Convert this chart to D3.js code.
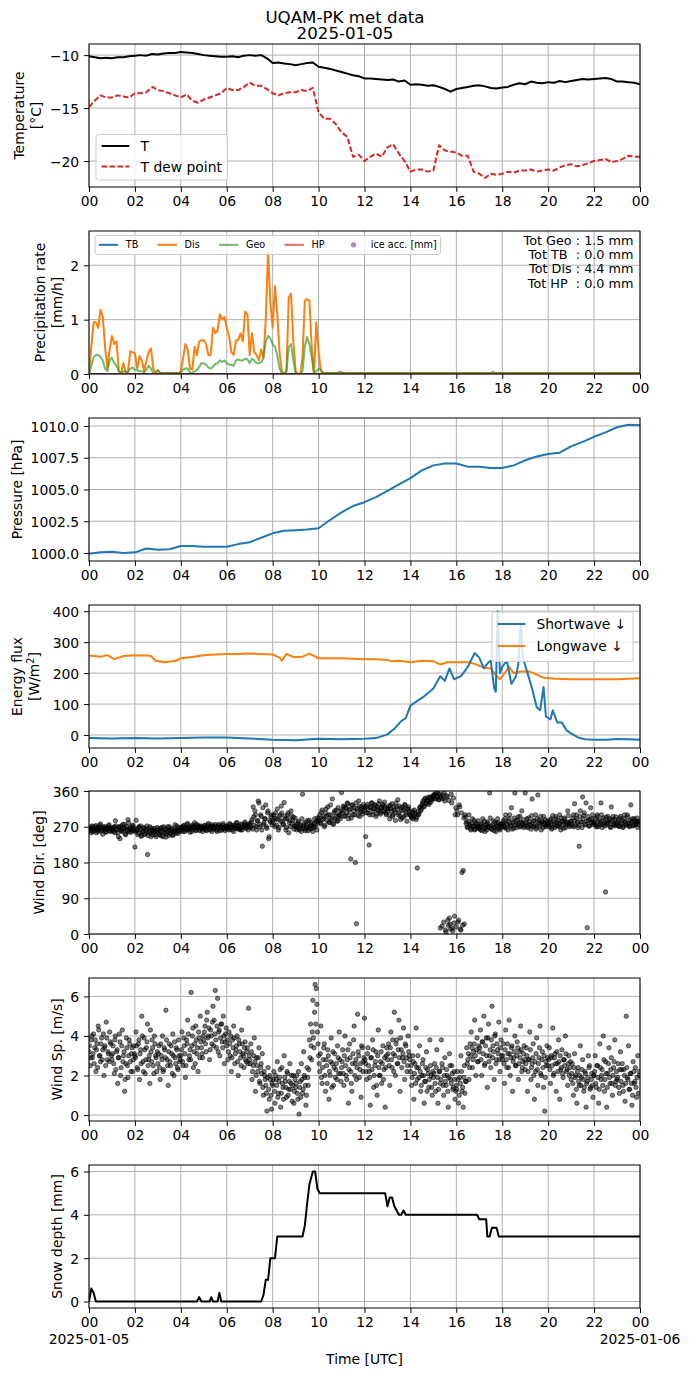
<!DOCTYPE html>
<html><head><meta charset="utf-8">
<script src="https://cdn.jsdelivr.net/npm/d3@7"></script>
<style>body{margin:0;background:#fff} svg text{font-family:"DejaVu Sans",sans-serif}</style>
</head><body><svg id="c" width="690" height="1377"></svg>
<script>
// ---------------- DATA ----------------
const xTickHours = [0,2,4,6,8,10,12,14,16,18,20,22,24];
const dateLabels = ["2025-01-05","2025-01-06"];

// Temperature, 0.25 h steps (rows = hours)
const tempT = [
 [-10.1,-10.2,-10.3,-10.25],[-10.3,-10.2,-10.2,-10.1],[-10.05,-10.0,-10.05,-9.9],[-9.95,-9.85,-9.8,-9.8],
 [-9.7,-9.75,-9.8,-9.9],[-10.0,-10.05,-10.1,-10.15],[-10.15,-10.1,-10.2,-10.05],[-10.0,-10.05,-10.0,-10.3],
 [-10.75,-10.7,-10.8,-10.85],[-10.95,-10.85,-10.75,-10.7],[-11.1,-11.2,-11.3,-11.45],[-11.6,-11.75,-11.9,-12.0],
 [-12.2,-12.2,-12.25,-12.3],[-12.35,-12.3,-12.5,-12.4],[-12.8,-12.75,-12.8,-12.9],[-12.85,-13.0,-13.2,-13.45],
 [-13.2,-13.1,-13.0,-12.9],[-12.85,-12.95,-13.1,-13.15],[-13.05,-13.0,-12.8,-12.65],[-12.75,-12.5,-12.6,-12.65],
 [-12.55,-12.6,-12.45,-12.55],[-12.45,-12.35,-12.25,-12.3],[-12.25,-12.2,-12.15,-12.25],[-12.5,-12.5,-12.55,-12.6],
 [-12.75]];
const tempTd = [
 [-14.9,-14.3,-13.8,-14.0],[-14.0,-13.8,-13.9,-14.0],[-13.6,-13.6,-13.5,-13.0],[-13.3,-13.4,-13.6,-13.8],
 [-14.0,-13.7,-14.3,-14.5],[-14.2,-14.0,-13.8,-13.6],[-13.1,-13.3,-13.3,-13.0],[-12.6,-12.9,-12.9,-13.2],
 [-13.6,-13.8,-13.6,-13.5],[-13.5,-13.3,-13.4,-13.1],[-15.4,-16.0,-16.0,-16.5],[-17.3,-17.7,-19.6,-19.4],
 [-20.0,-19.6,-19.3,-19.6],[-18.7,-18.4,-19.3,-20.0],[-21.0,-20.8,-20.8,-21.0],[-20.9,-18.5,-19.0,-19.1],
 [-19.2,-19.5,-19.5,-21.0],[-21.2,-21.6,-21.2,-21.3],[-21.2,-21.0,-21.1,-20.9],[-20.9,-20.8,-21.0,-20.9],
 [-20.8,-20.9,-20.6,-20.4],[-20.3,-20.5,-20.4,-20.2],[-20.0,-19.9,-19.8,-20.1],[-20.0,-19.8,-19.5,-19.6],
 [-19.6]];

// Precipitation rate, 0.1 h steps from 00 to 10.5 h, then tails
const disRate = [0,0.5,0.95,0.95,0.85,1.18,1.05,0.5,0.1,0.45,
 0.7,0.55,0.6,0.05,0.02,0.2,0.02,0.05,0.42,0.4,
 0.38,0.1,0.33,0.25,0.05,0.25,0.4,0.47,0.1,0.02,
 0.07,0.02,0.02,0.02,0.02,0.02,0.02,0.02,0.02,0.02,
 0.05,0.3,0.55,0.45,0.1,0.08,0.5,0.35,0.6,0.62,
 0.62,0.55,0.35,0.35,0.85,0.75,0.8,1.1,1.0,1.05,
 0.85,0.7,0.4,0.35,0.62,0.62,0.75,0.6,1.15,1.1,
 0.35,0.75,0.4,0.35,0.25,0.45,0.3,1.0,2.25,1.3,
 0.85,1.62,1.1,0.4,0.05,0,0.05,1.4,1.48,0.6,
 0.05,0,0,0.3,1.35,1.38,1.35,0.5,0,0.95,
 0.4,0.05,0.02,0.02,0.02,0.02];
const geoRate = [0,0.15,0.3,0.35,0.35,0.32,0.25,0.1,0.05,0.25,
 0.3,0.2,0.15,0.05,0.02,0.05,0.05,0.03,0.1,0.12,
 0.08,0.07,0.05,0.05,0.03,0.08,0.15,0.1,0.02,0.02,
 0.07,0.02,0.02,0.02,0.02,0.02,0.02,0.02,0.02,0.02,
 0.03,0.08,0.1,0.1,0.03,0.02,0.05,0.07,0.13,0.2,
 0.2,0.17,0.12,0.1,0.13,0.18,0.2,0.25,0.22,0.25,
 0.2,0.17,0.17,0.15,0.25,0.27,0.25,0.25,0.28,0.27,
 0.2,0.28,0.25,0.2,0.2,0.22,0.3,0.6,0.7,0.65,
 0.55,0.5,0.35,0.1,0.02,0,0.05,0.5,0.55,0.25,
 0.02,0,0,0.05,0.5,0.68,0.55,0.3,0.02,0.05,
 0.1,0.08,0.02,0.02,0.02,0.02];
const disTailTime = [11,24], disTail = [0.02,0.02];
const geoTailTime = [10.8,10.95,11.1,17.5,17.6,17.7,24], geoTail = [0.02,0.04,0.02,0.02,0.04,0.02,0.02];
const tbTime = [0,24], tbRate = [0,0];
const hpTime = [0,24], hpRate = [0,0];
const totals = ["Tot Geo : 1.5 mm","Tot TB  : 0.0 mm","Tot Dis : 4.4 mm","Tot HP  : 0.0 mm"];

// Pressure, 0.5 h steps
const pressure = [[999.95,1000.05],[1000.1,1000.0],[1000.05,1000.35],[1000.25,1000.3],[1000.55,1000.55],
 [1000.5,1000.5],[1000.5,1000.7],[1000.85,1001.2],[1001.55,1001.75],[1001.8,1001.85],[1001.95,1002.6],
 [1003.2,1003.7],[1004.0,1004.4],[1004.9,1005.4],[1005.9,1006.5],[1006.9,1007.05],[1007.05,1006.8],
 [1006.8,1006.7],[1006.7,1006.9],[1007.3,1007.6],[1007.8,1007.9],[1008.4,1008.75],[1009.15,1009.5],
 [1009.9,1010.1],[1010.05]];

// Energy flux
const swTime = [0,1,2,3,4,5,6,7,8,9,10,11,12,12.5,13,13.3,13.6,13.8,14,14.3,14.6,15,15.3,15.5,15.7,15.9,16.2,16.5,16.8,17.0,17.2,17.4,17.5,17.65,17.72,17.8,17.9,18.0,18.2,18.4,18.6,18.7,18.8,18.9,19.1,19.3,19.5,19.65,19.8,19.9,20.1,20.2,20.4,20.6,20.8,21,21.3,21.6,22,22.5,23,23.5,24];
const swFlux = [-10,-11,-10,-11,-10,-8,-8,-11,-15,-17,-12,-14,-12,-10,2,20,45,55,95,110,125,150,190,175,215,180,190,220,265,250,215,235,240,150,140,400,200,220,240,165,190,230,360,250,200,150,90,80,155,60,50,80,40,40,15,5,-8,-14,-15,-15,-13,-14,-15];
const lwTime = [0,0.5,0.8,1.1,1.5,2,2.5,2.7,2.9,3.3,3.8,4,4.5,5,5.5,6,6.5,7,7.5,8,8.3,8.4,8.6,8.9,9.3,9.6,10,10.5,11,12,12.5,13,13.2,13.5,14,14.5,15,15.3,15.6,16,16.5,16.8,17.2,17.5,17.7,17.9,18.2,18.3,18.5,18.8,19.2,19.5,19.8,20.3,21,22,23,24];
const lwFlux = [257,253,258,245,255,258,257,255,240,235,240,248,252,258,260,262,262,263,262,260,250,240,262,252,253,263,248,248,248,245,245,242,238,240,235,240,238,228,235,235,235,230,218,215,195,180,210,220,200,205,205,195,185,182,180,180,180,183];

// Wind direction (deg), 3-min samples at :00,:03,... one row per hour
const windDir = [
 [262,268,255,270,266,259,273,264,258,269,277,262,251,265,270,258,266,272,260,268],
 [264,258,270,285,262,255,268,240,272,260,266,276,250,263,288,257,269,262,274,259],
 [219,286,262,254,268,272,248,258,266,251,262,200,257,270,245,262,256,266,250,262],
 [258,252,266,247,261,270,255,244,262,258,270,252,263,248,260,275,254,262,268,258],
 [265,270,258,274,268,262,278,266,256,272,264,270,280,260,268,274,263,270,266,258],
 [268,274,262,270,278,264,270,258,272,266,276,262,269,273,260,270,266,278,264,270],
 [266,272,262,276,268,270,258,274,266,280,264,270,262,276,268,272,282,266,274,270],
 [278,268,288,320,274,300,262,284,330,270,296,221,276,290,325,266,310,245,282,300],
 [286,300,270,290,315,262,296,284,305,276,331,290,268,300,255,286,310,278,294,272],
 [270,262,280,266,275,258,352,272,264,282,268,260,286,274,266,258,278,270,284,292],
 [285,300,278,312,290,270,305,296,320,282,300,288,340,276,310,296,285,318,300,290],
 [356,305,320,298,316,330,290,312,189,325,300,318,180,26,310,335,296,320,308,326],
 [312,245,322,305,224,318,330,300,315,325,296,320,310,335,302,318,326,308,320,300],
 [310,322,290,316,328,300,312,286,320,338,305,296,318,292,312,326,300,284,315,308],
 [300,292,310,296,304,288,166,300,318,310,325,335,320,342,330,338,326,345,332,340],
 [345,352,340,348,355,338,15,342,350,30,335,5,345,22,40,12,330,8,28,300],
 [18,300,35,320,10,155,160,25,295,282,270,300,276,265,290,272,262,280,268,285],
 [270,262,278,290,266,258,275,282,268,355,272,264,285,260,270,278,290,266,262,276],
 [276,285,268,300,278,262,290,272,318,280,266,355,286,274,295,270,282,310,276,268],
 [355,280,270,292,276,264,340,284,272,300,268,350,286,278,262,282,296,274,270,285],
 [276,270,286,264,298,278,268,290,280,272,300,262,284,276,292,268,282,310,274,278],
 [284,272,300,328,276,290,268,221,310,282,345,298,276,330,16,286,272,318,290,280],
 [278,290,270,300,284,275,330,268,292,280,106,276,296,284,270,320,288,276,272,295],
 [274,286,270,296,280,268,290,282,274,300,278,270,325,284,272,290,276,282,268,284]];
// Wind direction (deg), samples at :01.5,:04.5,... one row per hour
const windDirB = [
 [266,260,272,258,264,270,255,268,262,274,259,266,270,261,256,268,264,275,258,265],
 [260,268,255,272,264,245,270,262,258,276,266,252,270,260,280,264,256,268,272,262],
 [258,265,250,270,262,246,256,268,252,264,272,248,260,255,266,250,262,258,245,268],
 [262,250,258,268,245,256,264,252,270,248,260,255,266,250,262,258,272,253,260,264],
 [268,262,272,258,266,276,262,270,265,258,274,268,262,276,266,270,260,272,268,264],
 [272,266,260,274,268,262,276,270,264,268,272,258,266,276,270,262,274,268,260,272],
 [270,264,278,268,262,274,270,266,280,268,272,264,276,262,270,278,268,274,262,276],
 [272,282,264,295,310,270,286,335,276,300,262,318,280,290,270,305,240,286,296,275],
 [280,292,305,274,288,268,300,322,284,276,296,262,290,305,280,270,298,286,264,292],
 [276,268,284,262,272,290,266,278,260,274,286,270,264,280,272,268,290,276,262,282],
 [292,280,306,288,296,274,315,286,300,280,325,292,278,305,290,312,284,300,296,310],
 [310,322,296,318,305,328,300,315,292,324,310,300,330,316,298,322,308,315,302,320],
 [318,305,326,312,300,320,330,308,316,324,302,314,328,306,318,310,322,332,304,315],
 [316,300,324,310,296,320,306,330,314,300,322,288,310,318,296,324,306,314,320,300],
 [296,306,290,312,300,294,308,302,320,314,330,322,340,328,336,344,330,342,338,348],
 [350,342,356,345,338,352,346,20,340,355,10,348,35,336,25,352,15,342,45,318],
 [310,30,325,12,305,22,292,300,278,268,284,272,262,278,270,286,264,276,272,266],
 [266,276,260,272,284,268,262,278,270,292,264,274,268,282,258,272,280,266,276,270],
 [280,270,290,266,276,284,300,272,264,282,292,274,268,286,278,296,270,280,288,272],
 [278,290,268,282,274,298,270,286,276,264,290,280,272,296,284,268,278,288,274,280],
 [280,274,290,268,284,276,296,272,286,278,270,292,282,266,288,276,280,298,270,284],
 [278,292,270,286,300,280,274,296,282,268,290,305,276,284,296,272,288,280,300,276],
 [282,274,296,270,288,280,300,276,286,272,294,282,278,290,268,284,296,276,288,280],
 [280,272,292,276,286,270,300,282,276,294,272,286,280,290,274,284,278,292,282,276]];

// Wind speed (m/s), 3-min samples at :00,:03,... one row per hour
const windSp = [
 [3.2,2.5,3.8,2.9,4.1,3.4,2.2,3.6,4.5,3.0,2.7,3.9,3.3,2.0,3.5,4.7,2.8,3.1,4.2,3.6],
 [2.8,3.5,2.1,4.0,3.2,1.6,2.9,3.7,2.4,4.3,3.0,1.2,2.6,3.4,1.9,3.8,2.7,3.1,2.2,3.5],
 [3.0,4.2,2.4,3.6,1.8,3.3,5.0,2.7,3.9,2.1,3.4,4.6,2.8,1.6,3.2,3.8,2.5,4.0,3.0,2.2],
 [2.6,3.5,1.8,3.0,4.0,2.3,3.3,5.3,2.8,1.5,3.6,2.5,3.1,4.1,2.0,2.9,3.4,2.4,3.8,2.7],
 [3.0,4.2,2.5,3.5,1.9,3.8,4.8,2.8,3.3,6.2,4.0,2.4,3.6,4.5,3.1,2.2,3.9,5.0,3.4,2.9],
 [3.8,4.5,3.2,5.2,4.0,2.8,4.3,3.6,5.5,4.8,6.3,3.4,5.9,4.2,3.0,4.6,3.7,5.0,2.6,4.1],
 [3.5,2.8,4.2,3.0,2.2,3.8,4.5,2.6,3.3,4.0,2.0,3.6,2.9,4.3,3.1,2.4,3.7,2.7,3.4,5.4],
 [2.8,3.6,1.8,2.5,3.9,1.2,2.9,2.2,3.4,1.6,2.6,3.1,1.0,2.0,1.5,0.2,2.4,0.8,1.8,0.3],
 [1.5,2.2,0.6,1.8,2.7,1.1,1.9,0.4,2.4,1.4,3.0,1.7,0.9,2.1,1.3,2.6,1.6,0.7,2.0,1.2],
 [1.4,2.0,0.8,0.05,1.7,2.6,1.1,3.2,1.9,0.5,2.4,1.5,3.8,4.6,2.8,5.8,3.4,6.6,6.4,4.2],
 [3.0,2.2,4.5,1.6,2.8,3.6,1.2,2.5,3.3,0.8,2.0,3.9,2.6,1.5,3.1,2.3,1.8,2.9,4.2,2.1],
 [2.4,3.3,1.5,4.0,2.0,2.8,0.6,3.6,2.2,1.2,3.1,4.5,2.6,1.8,5.1,3.0,2.3,0.9,3.4,2.7],
 [4.9,2.6,1.8,3.4,2.2,0.5,2.9,3.8,1.4,2.5,3.2,1.0,4.3,2.0,2.7,1.6,3.5,2.3,0.4,3.0],
 [2.8,3.6,1.5,4.2,2.4,3.1,5.2,2.0,3.8,2.6,4.8,1.2,3.3,2.9,4.4,1.8,3.5,2.2,4.0,3.0],
 [2.2,1.5,3.0,0.8,2.6,4.4,1.8,2.4,3.5,1.2,2.0,2.8,0.6,1.7,3.2,2.3,1.4,3.8,2.0,1.0],
 [1.9,2.6,1.2,3.3,0.6,2.2,1.6,3.8,2.4,1.0,2.9,1.5,2.0,0.4,3.1,1.8,2.5,1.3,2.2,0.8],
 [1.5,2.2,0.6,1.9,3.0,1.2,0.4,2.5,1.7,3.4,2.8,1.8,3.6,4.2,2.4,3.2,4.8,2.0,3.9,2.7],
 [3.2,4.3,2.0,3.7,5.0,2.6,3.9,1.4,4.6,3.0,2.4,5.5,3.5,1.8,4.1,2.8,3.3,4.7,2.2,3.8],
 [2.8,3.6,1.6,4.3,2.4,3.1,4.8,2.0,3.4,1.2,2.9,4.0,2.5,3.7,1.8,3.2,4.5,2.2,2.7,3.5],
 [2.3,3.4,1.2,2.8,4.2,1.8,2.6,3.6,0.8,2.2,3.9,1.5,2.9,4.5,2.0,3.2,1.4,0.2,2.7,3.5],
 [2.5,3.4,1.6,2.9,4.4,2.1,3.1,1.2,2.6,3.8,0.8,2.3,3.3,1.9,2.8,4.0,2.2,1.5,3.0,2.4],
 [1.8,2.6,1.0,3.1,2.0,0.6,2.4,1.5,3.5,1.9,2.8,1.2,2.2,0.4,1.7,3.0,2.5,1.4,2.1,0.9],
 [2.0,3.0,1.4,2.5,0.6,3.6,1.8,2.3,4.0,1.2,2.7,0.4,2.1,3.4,1.6,2.9,1.0,2.4,3.8,1.7],
 [1.8,2.6,1.1,3.2,2.3,1.5,2.3,0.7,5.0,1.9,3.5,1.3,2.1,0.5,2.7,1.6,2.4,0.9,3.0,2.2]];
// Wind speed (m/s), samples at :01.5,:04.5,... one row per hour
const windSpB = [
 [3.5,2.9,4.0,3.1,2.6,3.8,3.3,2.4,4.3,3.0,3.6,2.8,4.1,3.4,2.5,3.9,3.2,2.7,3.7,3.0],
 [3.1,2.6,3.8,2.3,3.3,2.9,4.1,2.0,3.5,2.7,3.2,1.8,3.9,2.5,3.0,3.6,2.2,3.4,2.8,3.1],
 [2.9,3.5,2.3,3.8,3.1,2.6,4.0,2.2,3.3,2.8,3.7,2.5,3.0,4.3,2.7,3.4,2.1,3.6,2.9,3.2],
 [3.1,2.4,3.6,2.8,2.2,3.4,2.9,3.8,2.5,3.2,2.7,3.5,2.1,3.0,3.7,2.6,3.3,2.3,3.0,2.8],
 [3.3,2.7,3.9,3.1,2.5,3.6,4.1,3.0,2.8,3.5,4.4,3.2,2.6,3.8,3.4,4.2,2.9,3.7,3.1,4.0],
 [4.2,3.6,4.8,3.9,4.4,3.3,4.0,4.7,3.5,4.1,3.8,4.5,3.2,4.3,3.9,4.6,3.4,4.0,3.7,4.4],
 [3.8,3.2,3.6,4.0,2.9,3.4,3.9,3.1,3.5,2.7,3.8,3.2,2.5,3.6,3.0,3.4,2.8,3.2,2.6,3.0],
 [2.6,3.2,2.2,3.0,2.7,2.0,2.5,2.9,1.7,2.4,2.1,1.4,2.2,1.8,1.1,1.9,1.3,2.0,1.0,1.6],
 [1.8,1.2,2.0,1.5,0.9,1.7,2.3,1.1,1.6,0.8,1.9,1.4,2.2,1.0,1.7,1.3,2.0,1.5,0.6,1.8],
 [1.6,1.1,2.2,1.4,0.9,1.8,1.3,2.0,1.5,1.0,1.9,2.3,2.9,3.5,4.2,3.9,5.2,4.6,5.6,3.6],
 [2.6,3.1,1.9,2.4,3.4,2.0,2.8,1.6,3.0,2.2,2.7,1.4,3.2,2.4,1.9,2.6,3.5,2.1,2.8,1.7],
 [2.7,2.1,3.0,2.5,1.8,3.3,2.3,2.9,1.6,2.6,3.8,2.0,2.8,2.4,3.2,1.9,2.6,3.5,2.2,2.9],
 [2.8,2.2,3.1,2.5,1.9,2.9,2.3,3.3,2.0,2.7,1.5,3.0,2.4,2.0,3.2,2.6,1.8,2.9,2.4,3.4],
 [3.1,2.5,3.4,2.8,3.8,2.2,3.0,3.6,2.6,3.3,2.9,3.9,2.4,3.1,2.7,3.6,2.9,2.5,3.2,2.8],
 [2.5,1.9,2.7,2.1,1.6,2.4,3.0,1.9,2.2,1.5,2.6,2.0,1.7,2.4,1.2,2.1,1.8,2.5,1.4,2.2],
 [2.1,1.6,2.4,1.9,1.3,2.2,1.8,2.6,1.5,2.0,1.7,2.3,1.2,1.9,2.5,1.6,2.1,1.4,1.8,1.2],
 [1.3,1.8,1.0,1.6,2.2,1.4,1.9,1.1,1.7,2.6,3.1,2.4,3.0,3.4,2.8,3.6,3.0,3.3,2.7,3.5],
 [3.4,2.8,3.7,3.1,2.5,3.5,3.0,3.9,2.7,3.3,3.8,2.9,3.2,4.0,2.6,3.6,3.1,2.8,3.4,3.0],
 [3.0,2.6,3.3,2.8,3.6,2.4,3.1,2.9,3.5,2.7,3.2,2.5,3.0,3.4,2.6,2.9,3.3,2.4,3.1,2.8],
 [2.6,3.0,2.2,2.8,3.3,2.4,2.9,2.0,2.7,3.1,2.3,2.6,3.4,2.1,2.8,2.4,3.0,1.9,2.5,2.9],
 [2.8,2.3,3.0,2.5,2.0,2.9,2.6,3.2,2.2,2.7,3.0,2.4,2.1,2.8,2.5,3.1,2.3,2.6,2.0,2.7],
 [2.1,1.6,2.4,1.9,1.3,2.2,1.7,2.0,1.5,2.3,1.8,1.4,2.1,1.6,1.9,2.4,1.3,1.8,1.5,2.0],
 [2.2,1.6,2.5,1.9,1.3,2.4,2.0,1.5,2.8,1.8,2.1,1.4,2.6,1.9,2.3,1.6,2.0,2.7,1.5,2.2],
 [1.9,1.4,2.3,1.7,2.6,1.2,2.0,1.6,2.4,1.8,1.3,2.1,1.6,1.0,2.2,1.7,1.4,1.9,1.1,2.0]];

// Snow depth
const snowTime = [0,0.1,0.2,0.3,4.7,4.8,4.9,5.25,5.33,5.4,5.6,5.68,5.76,7.5,7.6,7.7,7.8,7.9,8.1,8.2,9.3,9.4,9.5,9.6,9.75,9.85,9.95,10.05,12.9,13.0,13.1,13.2,13.3,13.5,13.6,13.7,13.8,16.9,17.0,17.3,17.35,17.45,17.55,17.75,17.85,24];
const snowDepth = [0,0.6,0.4,0,0,0.2,0,0,0.2,0,0,0.4,0,0,0.3,1.0,1.0,2.0,2.0,3.0,3.0,3.5,4.5,5.4,6.0,6.0,5.2,5.0,5.0,4.4,4.8,4.8,4.4,4.0,4.0,4.2,4.0,4.0,3.8,3.8,3.0,3.0,3.4,3.4,3.0,3.0];

// ---------------- HELPERS ----------------
const rowsToPts = (rows, step) => { const out=[]; rows.forEach((r,h)=>r.forEach((v,j)=>out.push([h+j*step, v]))); return out; };
const zipPts = (t, v) => t.map((d,i)=>[d, v[i]]);
const hourly = (rows, off) => { const out=[]; rows.forEach((r,h)=>r.forEach((v,j)=>out.push([h+(j+off)/r.length, v]))); return out; };

const FS = 13.9;
const svg = d3.select('#c');
const L = 89, R = 640, H = 143;
const tops = [44,231,418,605,791,978,1165];
const x = d3.scaleLinear().domain([0,24]).range([L,R]);
const C = {blue:'#1f77b4', orange:'#ff7f0e', green:'#2ca02c', red:'#d62728', purple:'#9467bd'};

function panel(i, domain, ticks, fmt) {
  const top = tops[i], bot = top + H;
  const y = d3.scaleLinear().domain(domain).range([bot, top]);
  const root = svg.append('g');
  svg.append('clipPath').attr('id','clip'+i).append('rect')
     .attr('x',L).attr('y',top).attr('width',R-L).attr('height',H);
  const grid = root.append('g').attr('stroke','#b0b0b0').attr('stroke-width',1);
  grid.selectAll('line.v').data(xTickHours).join('line').attr('class','v')
      .attr('x1',d=>x(d)).attr('x2',d=>x(d)).attr('y1',top).attr('y2',bot);
  grid.selectAll('line.h').data(ticks).join('line').attr('class','h')
      .attr('x1',L).attr('x2',R).attr('y1',d=>y(d)).attr('y2',d=>y(d));
  const data = root.append('g').attr('clip-path',`url(#clip${i})`);
  const over = root.append('g');
  over.append('rect').attr('x',L).attr('y',top).attr('width',R-L).attr('height',H)
      .attr('fill','none').attr('stroke','#000').attr('stroke-width',1);
  const ax = over.append('g').attr('transform',`translate(0,${bot})`)
     .call(d3.axisBottom(x).tickValues(xTickHours).tickSize(4.9).tickPadding(4.4)
           .tickFormat(d=>String(d%24).padStart(2,'0')));
  const ay = over.append('g').attr('transform',`translate(${L},0)`)
     .call(d3.axisLeft(y).tickValues(ticks).tickSize(4.9).tickPadding(4.9).tickFormat(fmt));
  [ax,ay].forEach(a=>{ a.attr('font-size',FS).attr('font-family','"DejaVu Sans", sans-serif');
    a.select('.domain').remove(); a.selectAll('.tick line').attr('stroke','#000').attr('stroke-width',1); });
  ay.selectAll('.tick text').attr('dy','0.36em');
  return {y, data, over, top, bot};
}
function line(p, pts, color, width, dash, opacity) {
  const ln = d3.line().x(d=>x(d[0])).y(d=>p.y(d[1]));
  const path = p.data.append('path').datum(pts).attr('d',ln).attr('fill','none')
     .attr('stroke',color).attr('stroke-width',width).attr('stroke-linejoin','round');
  if (dash) path.attr('stroke-dasharray',dash);
  if (opacity!=null) path.attr('stroke-opacity',opacity);
  return path;
}
function dots(p, pts) {
  p.data.append('g').selectAll('circle').data(pts).join('circle')
    .attr('cx',d=>x(d[0])).attr('cy',d=>p.y(d[1])).attr('r',2.2)
    .attr('fill','#000').attr('fill-opacity',0.5).attr('stroke','#000').attr('stroke-opacity',0.5).attr('stroke-width',1);
}
function ylabel(p, lines, xs) {
  const cy = (p.top + p.bot)/2;
  lines.forEach((t,k)=>{
    const el = svg.append('text').attr('transform',`translate(${xs[k]},${cy}) rotate(-90)`)
      .attr('text-anchor','middle').attr('dy','0.35em').attr('font-size',FS).attr('fill','#000');
    if (Array.isArray(t)) { t.forEach(s=>{ const ts = el.append('tspan').text(s.t);
        if (s.sup) ts.attr('baseline-shift','super').attr('font-size',FS*0.7); }); }
    else el.text(t);
  });
}
function frame(g, x0, y0, w, h) {
  g.append('rect').attr('x',x0).attr('y',y0).attr('width',w).attr('height',h).attr('rx',2.5)
   .attr('fill','#fff').attr('fill-opacity',0.8).attr('stroke','#cccccc').attr('stroke-width',1);
}

// ---------------- TITLE ----------------
svg.append('text').attr('x',345).attr('y',22.5).attr('text-anchor','middle').attr('font-size',16.67).text('UQAM-PK met data');
svg.append('text').attr('x',345).attr('y',39.3).attr('text-anchor','middle').attr('font-size',16.67).text('2025-01-05');

// ---------------- P1 Temperature ----------------
const p1 = panel(0, [-22.45,-8.95], [-20,-15,-10], d3.format('d'));
line(p1, rowsToPts(tempT,0.25), '#000', 2);
line(p1, rowsToPts(tempTd,0.25), C.red, 2, '5.55,2.4');
ylabel(p1, ['Temperature','[°C]'], [19.5,36]);
{
  const g = p1.over.append('g'); frame(g, 96, 134.5, 131.5, 45.5);
  const rows = [{t:'T', c:'#000', d:null, y:146},{t:'T dew point', c:C.red, d:'5.55,2.4', y:166.5}];
  rows.forEach(r=>{
    const l = g.append('line').attr('x1',101.6).attr('x2',129.4).attr('y1',r.y).attr('y2',r.y).attr('stroke',r.c).attr('stroke-width',2);
    if (r.d) l.attr('stroke-dasharray',r.d);
    g.append('text').attr('x',140.5).attr('y',r.y).attr('dy','0.36em').attr('font-size',FS).text(r.t);
  });
}

// ---------------- P2 Precipitation ----------------
const p2 = panel(1, [0,2.63], [0,1,2], d3.format('d'));
const prT = disRate.map((v,i)=>i/10);
line(p2, zipPts(tbTime,tbRate), C.blue, 2);
line(p2, zipPts(prT,disRate).concat(zipPts(disTailTime,disTail)), C.orange, 2);
line(p2, zipPts(prT,geoRate).concat(zipPts(geoTailTime,geoTail)), C.green, 2, null, 0.7);
line(p2, zipPts(hpTime,hpRate), C.red, 2, null, 0.7);
ylabel(p2, ['Precipitation rate','[mm/h]'], [40.5,57]);
{
  const g = p2.over.append('g');
  const fs = 9.64, cy = 244.8;
  const items = [{t:'TB',c:C.blue,o:1},{t:'Dis',c:C.orange,o:1},{t:'Geo',c:C.green,o:0.7},{t:'HP',c:C.red,o:0.7},{t:'ice acc. [mm]',c:C.purple,o:0.8,dot:true}];
  const fr = g.append('g');
  let cx = 95 + fs*0.4;
  items.forEach((it,k)=>{
    if (it.dot) g.append('circle').attr('cx',cx+fs).attr('cy',cy).attr('r',2.6).attr('fill',it.c).attr('fill-opacity',it.o);
    else g.append('line').attr('x1',cx).attr('x2',cx+2*fs).attr('y1',cy).attr('y2',cy).attr('stroke',it.c).attr('stroke-opacity',it.o).attr('stroke-width',2);
    const tx = g.append('text').attr('x',cx+2.8*fs).attr('y',cy).attr('dy','0.36em').attr('font-size',fs).text(it.t);
    cx = cx + 2.8*fs + tx.node().getComputedTextLength() + (k<items.length-1 ? 2*fs : 0);
  });
  frame(fr, 95, 235.5, cx + fs*0.4 - 95, 19);
  totals.forEach((t,k)=>{
    g.append('text').attr('x',633.5).attr('y',245+k*14.2).attr('text-anchor','end')
      .attr('font-size',12.8).attr('xml:space','preserve').style('white-space','pre').text(t);
  });
}

// ---------------- P3 Pressure ----------------
const p3 = panel(2, [999.37,1010.63], [1000,1002.5,1005,1007.5,1010], d3.format('.1f'));
line(p3, rowsToPts(pressure,0.5), C.blue, 2);
ylabel(p3, ['Pressure [hPa]'], [17]);

// ---------------- P4 Energy flux ----------------
const p4 = panel(3, [-42,420], [0,100,200,300,400], d3.format('d'));
line(p4, zipPts(lwTime,lwFlux), C.orange, 2);
line(p4, zipPts(swTime,swFlux), C.blue, 2);
ylabel(p4, ['Energy flux',[{t:'[W/m'},{t:'2',sup:true},{t:']'}]], [17,34]);
{
  const g = p4.over.append('g'); frame(g, 492, 612, 141, 49.5);
  [{t:'Shortwave ↓',c:C.blue,y:624},{t:'Longwave ↓',c:C.orange,y:646}].forEach(r=>{
    g.append('line').attr('x1',497.6).attr('x2',525.4).attr('y1',r.y).attr('y2',r.y).attr('stroke',r.c).attr('stroke-width',2);
    g.append('text').attr('x',536.5).attr('y',r.y).attr('dy','0.36em').attr('font-size',FS).text(r.t);
  });
}

// ---------------- P5 Wind direction ----------------
const p5 = panel(4, [0,360], [0,90,180,270,360], d3.format('d'));
dots(p5, hourly(windDir,0).concat(hourly(windDirB,0.5)));
ylabel(p5, ['Wind Dir. [deg]'], [39]);

// ---------------- P6 Wind speed ----------------
const p6 = panel(5, [-0.3,6.93], [0,2,4,6], d3.format('d'));
dots(p6, hourly(windSp,0).concat(hourly(windSpB,0.5)));
ylabel(p6, ['Wind Sp. [m/s]'], [57]);

// ---------------- P7 Snow depth ----------------
const p7 = panel(6, [-0.3,6.3], [0,2,4,6], d3.format('d'));
line(p7, zipPts(snowTime,snowDepth), '#000', 2);
ylabel(p7, ['Snow depth [mm]'], [57]);
[[0,dateLabels[0]],[24,dateLabels[1]]].forEach(([h,t])=>{
  svg.append('text').attr('x',x(h)).attr('y',p7.bot+35.5).attr('text-anchor','middle').attr('font-size',FS).text(t);
});
svg.append('text').attr('x',(L+R)/2).attr('y',1364).attr('text-anchor','middle').attr('font-size',FS).text('Time [UTC]');
</script></body></html>
